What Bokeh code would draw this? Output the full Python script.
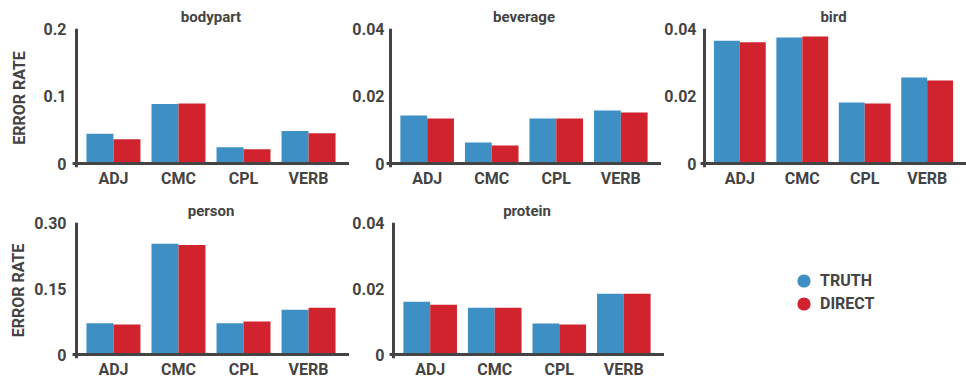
from bokeh.plotting import figure
from bokeh.layouts import column, row
from bokeh.models import ColumnDataSource, FactorRange, Range1d, FixedTicker, Legend, LegendItem, Span
from bokeh.transform import dodge
from bokeh.embed import file_html
from bokeh.resources import INLINE

# ---- data ----
categories = ["ADJ", "CMC", "CPL", "VERB"]
series_names = ["TRUTH", "DIRECT"]
y_label = "ERROR RATE"

bodypart_truth = [0.044, 0.088, 0.024, 0.048]
bodypart_direct = [0.036, 0.089, 0.021, 0.045]
beverage_truth = [0.0142, 0.0062, 0.0133, 0.0157]
beverage_direct = [0.0133, 0.0053, 0.0133, 0.0151]
bird_truth = [0.0364, 0.0373, 0.0181, 0.0255]
bird_direct = [0.0359, 0.0376, 0.0178, 0.0246]
person_truth = [0.071, 0.2515, 0.071, 0.102]
person_direct = [0.0685, 0.249, 0.075, 0.1065]
protein_truth = [0.016, 0.0142, 0.0094, 0.0184]
protein_direct = [0.0151, 0.0142, 0.0091, 0.0184]

ticks_bodypart = [0, 0.1, 0.2]
labels_bodypart = ["0", "0.1", "0.2"]
ticks_small = [0, 0.02, 0.04]
labels_small = ["0", "0.02", "0.04"]
ticks_person = [0, 0.15, 0.30]
labels_person = ["0", "0.15", "0.30"]

# ---- style ----
TRUTH_COLOR = "#3d8fc4"
DIRECT_COLOR = "#d0232d"
TEXT = "#444444"
FONT = "Roboto"
BAR_W = 0.415
OFF = 0.2075
EDGE = 4  # axis lines sit this many px inside the plot frame


def panel(title, truth, direct, yticks, ylabels, width, height, bl, bt, bb,
          span_px, ylabel=None, ylabel_standoff=0, ylab_std=5):
    src = ColumnDataSource(dict(cat=categories, truth=truth, direct=direct))
    top = yticks[-1]
    p = figure(x_range=FactorRange(factors=categories, range_padding=0.065),
               y_range=Range1d(-top * EDGE / span_px, top),
               width=width, height=height, title=title,
               output_backend="svg", toolbar_location=None,
               min_border_left=bl, min_border_right=0,
               min_border_top=bt, min_border_bottom=bb)
    p.border_fill_color = None
    p.background_fill_color = None
    p.outline_line_color = None
    p.xgrid.visible = False

    # baseline at y = 0
    p.ygrid[0].ticker = FixedTicker(ticks=[yticks[0]])
    p.ygrid[0].grid_line_color = TEXT
    p.ygrid[0].grid_line_width = 3
    p.add_layout(Span(location=yticks[0], dimension="width",
                      line_color=TEXT, line_width=3))
    # vertical axis line
    p.add_layout(Span(location=EDGE, location_units="screen", dimension="height",
                      line_color=TEXT, line_width=3))

    p.vbar(x=dodge("cat", -OFF, range=p.x_range), top="truth", width=BAR_W,
           source=src, fill_color=TRUTH_COLOR, line_color=None)
    p.vbar(x=dodge("cat", OFF, range=p.x_range), top="direct", width=BAR_W,
           source=src, fill_color=DIRECT_COLOR, line_color=None)

    p.title.align = "center"
    p.title.text_font = FONT
    p.title.text_font_style = "bold"
    p.title.text_font_size = "15px"
    p.title.text_color = TEXT
    p.title.standoff = 5

    ya = p.yaxis[0]
    ya.ticker = FixedTicker(ticks=yticks)
    ya.major_label_overrides = dict(zip(yticks, ylabels))
    ya.axis_line_color = None
    ya.major_tick_line_color = None
    ya.minor_tick_line_color = None
    ya.major_tick_in = 0
    ya.major_tick_out = 0
    ya.minor_tick_out = 0
    ya.minor_tick_in = 0
    ya.major_label_standoff = ylab_std
    ya.major_label_text_font = FONT
    ya.major_label_text_font_style = "bold"
    ya.major_label_text_font_size = "16px"
    ya.major_label_text_color = TEXT
    if ylabel:
        ya.axis_label = ylabel
        ya.axis_label_standoff = ylabel_standoff
        ya.axis_label_text_font = FONT
        ya.axis_label_text_font_style = "bold"
        ya.axis_label_text_font_size = "16px"
        ya.axis_label_text_color = TEXT

    xa = p.xaxis[0]
    xa.axis_line_color = None
    xa.major_tick_line_color = None
    xa.minor_tick_line_color = None
    xa.major_tick_out = 0
    xa.major_tick_in = 0
    xa.minor_tick_out = 0
    xa.minor_tick_in = 0
    xa.major_label_standoff = 1
    xa.major_label_text_font = FONT
    xa.major_label_text_font_style = "bold"
    xa.major_label_text_font_size = "16px"
    xa.major_label_text_color = TEXT
    return p


# row 1: 28 top, 135 px from 0 to top tick, 4 px below baseline, 28 bottom
H1, H2 = 195, 186
f1 = panel("bodypart", bodypart_truth, bodypart_direct, ticks_bodypart, labels_bodypart,
           349, H1, 72, 28, 28, 135, y_label, 12, ylab_std=6)
f2 = panel("beverage", beverage_truth, beverage_direct, ticks_small, labels_small,
           312, H1, 35, 28, 28, 135, ylab_std=2)
f3 = panel("bird", bird_truth, bird_direct, ticks_small, labels_small,
           305, H1, 38, 28, 28, 135, ylab_std=4)
# row 2: 27 top, 134 px span, 4 px below baseline, 21 bottom
f4 = panel("person", person_truth, person_direct, ticks_person, labels_person,
           349, H2, 72, 27, 21, 134, y_label, 3, ylab_std=6)
f5 = panel("protein", protein_truth, protein_direct, ticks_small, labels_small,
           315, H2, 39, 27, 21, 134, ylab_std=5)

# legend panel: hidden scatter renderers carry the legend glyphs
leg_src = ColumnDataSource(dict(cat=categories, truth=protein_truth, direct=protein_direct))
lp = figure(width=302, height=H2, x_range=FactorRange(factors=categories),
            y_range=Range1d(0, 1),
            x_axis_type=None, y_axis_type=None, min_border=0,
            output_backend="svg", toolbar_location=None)
lp.outline_line_color = None
lp.border_fill_color = None
lp.background_fill_color = None
r_truth = lp.scatter(x="cat", y="truth", source=leg_src, size=13,
                     fill_color=TRUTH_COLOR, line_color=None, visible=False)
r_direct = lp.scatter(x="cat", y="direct", source=leg_src, size=13,
                      fill_color=DIRECT_COLOR, line_color=None, visible=False)
common = dict(orientation="vertical", glyph_width=33, glyph_height=33,
              label_standoff=-3, padding=0, margin=0, border_line_color=None,
              background_fill_alpha=0, label_text_font=FONT,
              label_text_font_style="bold", label_text_font_size="16px",
              label_text_color=TEXT)
lp.add_layout(Legend(items=[LegendItem(label=series_names[0], renderers=[r_truth])],
                     location=(123, 61), **common))
lp.add_layout(Legend(items=[LegendItem(label=series_names[1], renderers=[r_direct])],
                     location=(123, 38), **common))

layout = column(row(f1, f2, f3), row(f4, f5, lp))
open("out.html", "w").write(file_html(layout, INLINE))
